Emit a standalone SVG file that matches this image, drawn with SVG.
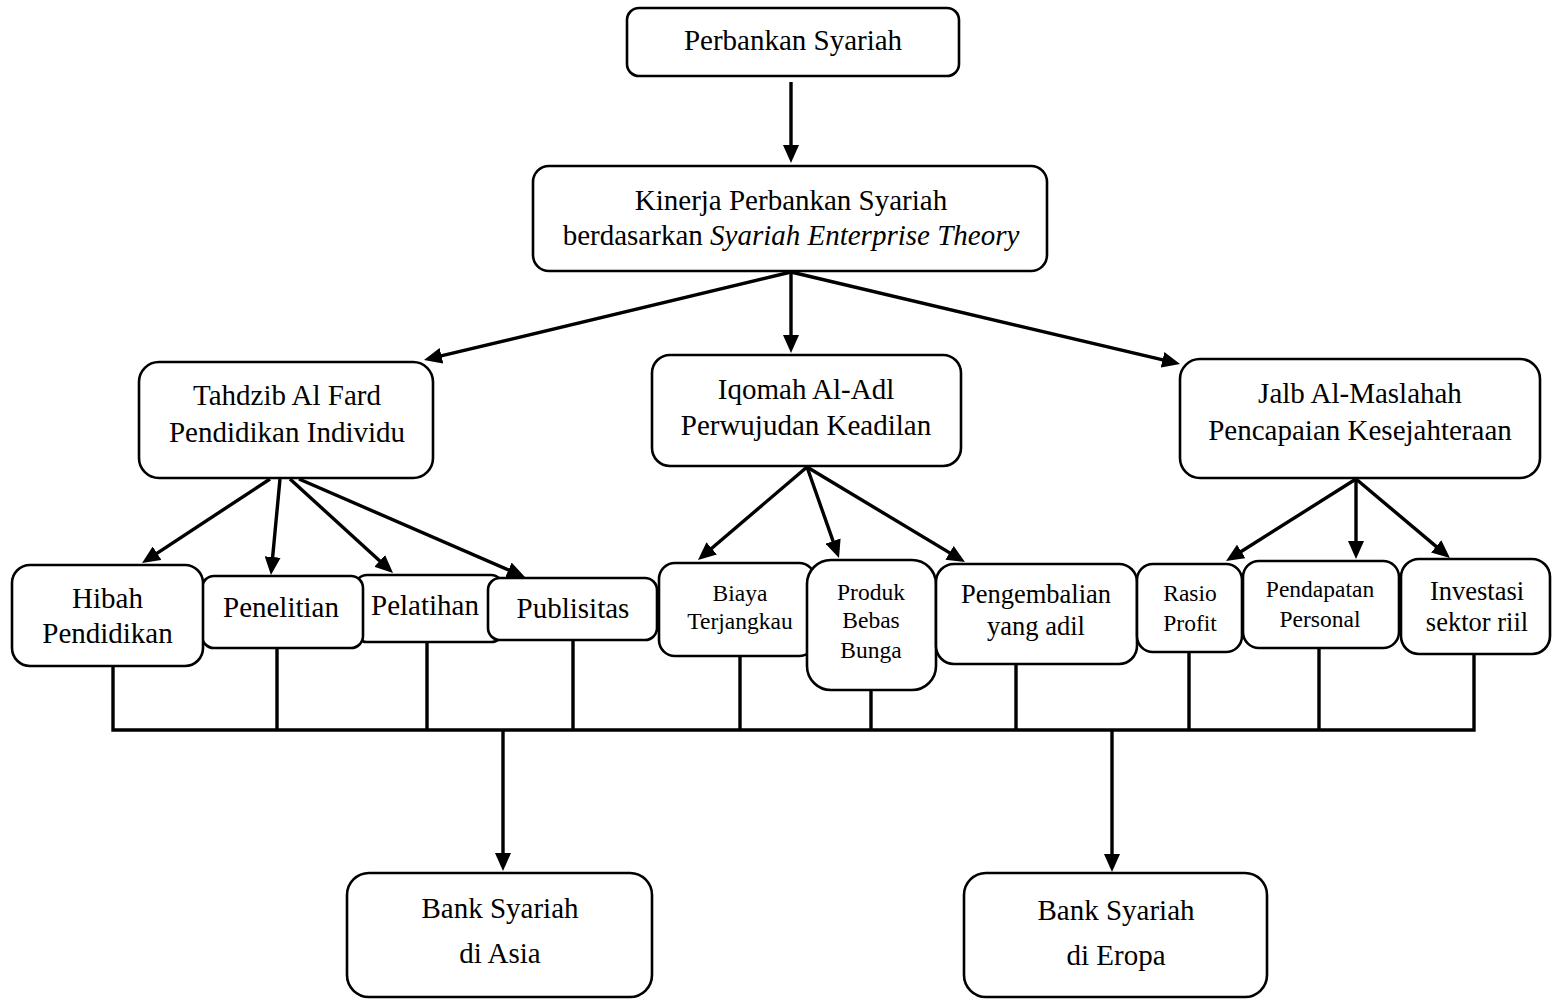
<svg xmlns="http://www.w3.org/2000/svg" width="1552" height="999" viewBox="0 0 1552 999">
<style>
.box{fill:#fff;stroke:#000;stroke-width:2.6}
.ln{fill:none;stroke:#000;stroke-width:3.4}
.ar{fill:none;stroke:#000;stroke-width:3.4;marker-end:url(#ah)}
text{font-family:"Liberation Serif","Times New Roman",serif;fill:#000;text-anchor:middle}
.t{font-size:29px}
.s{font-size:23.5px}
.m{font-size:26.5px}
</style>
<defs>
<marker id="ah" markerUnits="userSpaceOnUse" viewBox="0 0 18 16" markerWidth="18" markerHeight="16" refX="8" refY="8" orient="auto">
<path d="M0,0 L18,8 L0,16 z" fill="#000"/>
</marker>
</defs>
<rect width="1552" height="999" fill="#fff"/>
<g id="connectors">
<line class="ar" x1="791" y1="82" x2="791" y2="153"/>
<line class="ar" x1="791" y1="272" x2="433.7" y2="357.7"/>
<line class="ar" x1="791" y1="272" x2="791" y2="343"/>
<line class="ar" x1="791" y1="272" x2="1170.3" y2="361.7"/>
<line class="ar" x1="270" y1="479" x2="150.4" y2="557.6"/>
<line class="ar" x1="280" y1="479" x2="271.9" y2="565"/>
<line class="ar" x1="290" y1="479" x2="385.6" y2="566.3"/>
<line class="ar" x1="299" y1="479" x2="515.8" y2="573.1"/>
<line class="ar" x1="807" y1="467" x2="705.6" y2="553.5"/>
<line class="ar" x1="807" y1="467" x2="835.7" y2="548.6"/>
<line class="ar" x1="807" y1="467" x2="956.4" y2="556.9"/>
<line class="ar" x1="1356" y1="479" x2="1234.5" y2="555.7"/>
<line class="ar" x1="1356" y1="479" x2="1356" y2="549"/>
<line class="ar" x1="1356" y1="479" x2="1442.3" y2="551.6"/>
<path class="ln" d="M113,665 V730 M277,647 V730 M427,641 V730 M573,639 V730 M740,655 V730 M871,689 V730 M1016,663 V730 M1189,651 V730 M1319,647 V730 M1474,653 V730 M111.3,730 H1475.7"/>
<line class="ar" x1="503" y1="730" x2="503" y2="861"/>
<line class="ar" x1="1112" y1="730" x2="1112" y2="862"/>
</g>
<g id="n-perbankan">
<rect class="box" x="627" y="8" width="332" height="68" rx="12"/>
<text class="t" x="793" y="50">Perbankan Syariah</text>
</g>
<g id="n-kinerja">
<rect class="box" x="533" y="166" width="514" height="105" rx="16"/>
<text class="t" x="791" y="210">Kinerja Perbankan Syariah</text>
<text class="t" x="791" y="245">berdasarkan <tspan font-style="italic">Syariah Enterprise Theory</tspan></text>
</g>
<g id="n-tahdzib">
<rect class="box" x="139" y="362" width="294" height="116" rx="20"/>
<text class="t" x="287" y="405">Tahdzib Al Fard</text>
<text class="t" x="287" y="442">Pendidikan Individu</text>
</g>
<g id="n-iqomah">
<rect class="box" x="652" y="355" width="309" height="111" rx="18"/>
<text class="t" x="806" y="399">Iqomah Al-Adl</text>
<text class="t" x="806" y="435">Perwujudan Keadilan</text>
</g>
<g id="n-jalb">
<rect class="box" x="1180" y="359" width="360" height="119" rx="20"/>
<text class="t" x="1360" y="403">Jalb Al-Maslahah</text>
<text class="t" x="1360" y="440">Pencapaian Kesejahteraan</text>
</g>
<g id="n-pelatihan">
<rect class="box" x="355" y="575" width="148" height="67" rx="12"/>
<text class="t" x="425" y="615">Pelatihan</text>
</g>
<g id="n-penelitian">
<rect class="box" x="202" y="576" width="161" height="72" rx="12"/>
<text class="t" x="281" y="617">Penelitian</text>
</g>
<g id="n-hibah">
<rect class="box" x="12" y="565" width="191" height="101" rx="18"/>
<text class="t" x="107.5" y="608">Hibah</text>
<text class="t" x="107.5" y="643">Pendidikan</text>
</g>
<g id="n-publisitas">
<rect class="box" x="488" y="578" width="169" height="62" rx="12"/>
<text class="t" x="573" y="618">Publisitas</text>
</g>
<g id="n-biaya">
<rect class="box" x="659" y="563" width="156" height="93" rx="16"/>
<text class="s" x="740" y="601">Biaya</text>
<text class="s" x="740" y="629">Terjangkau</text>
</g>
<g id="n-produk">
<rect class="box" x="807" y="560" width="129" height="130" rx="24"/>
<text class="s" x="871" y="600">Produk</text>
<text class="s" x="871" y="628">Bebas</text>
<text class="s" x="871" y="658">Bunga</text>
</g>
<g id="n-pengembalian">
<rect class="box" x="936" y="564" width="201" height="100" rx="18"/>
<text class="m" x="1036" y="603">Pengembalian</text>
<text class="m" x="1036" y="635">yang adil</text>
</g>
<g id="n-rasio">
<rect class="box" x="1137" y="564" width="105" height="88" rx="16"/>
<text class="s" x="1190" y="601">Rasio</text>
<text class="s" x="1190" y="631">Profit</text>
</g>
<g id="n-pendapatan">
<rect class="box" x="1243" y="561" width="156" height="87" rx="16"/>
<text class="s" x="1320" y="597">Pendapatan</text>
<text class="s" x="1320" y="627">Personal</text>
</g>
<g id="n-investasi">
<rect class="box" x="1401" y="559" width="149" height="95" rx="18"/>
<text class="m" x="1477" y="600">Investasi</text>
<text class="m" x="1477" y="631">sektor riil</text>
</g>
<g id="n-asia">
<rect class="box" x="347" y="873" width="305" height="124" rx="22"/>
<text class="t" x="500" y="918">Bank Syariah</text>
<text class="t" x="500" y="963">di Asia</text>
</g>
<g id="n-eropa">
<rect class="box" x="964" y="873" width="303" height="124" rx="22"/>
<text class="t" x="1116" y="920">Bank Syariah</text>
<text class="t" x="1116" y="965">di Eropa</text>
</g>
</svg>
